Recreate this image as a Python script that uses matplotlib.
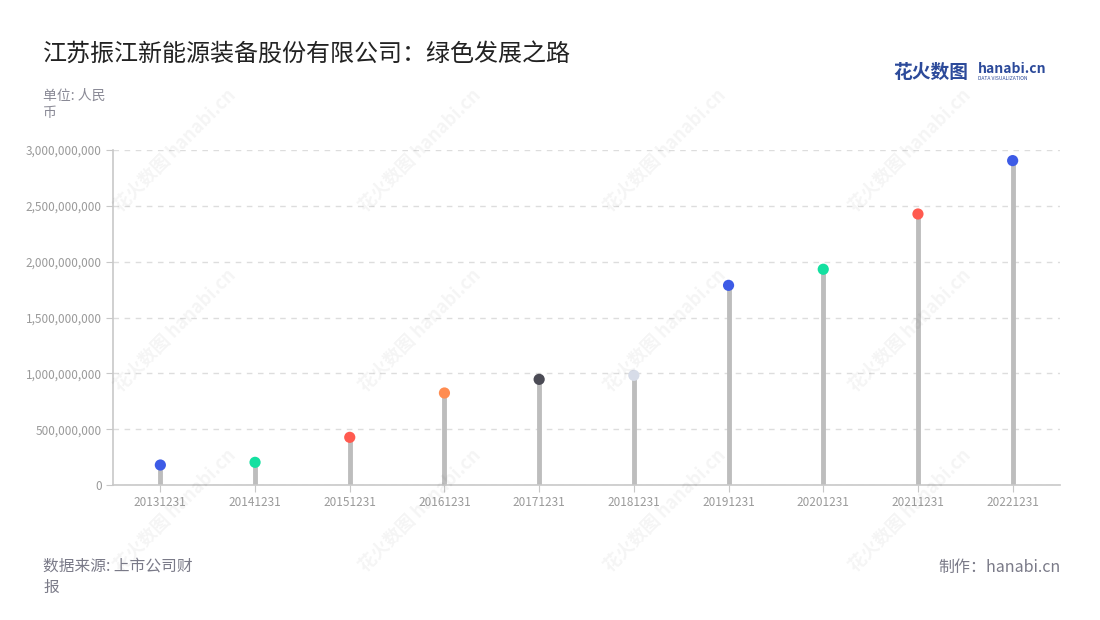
import matplotlib
matplotlib.use("Agg")
import matplotlib.pyplot as plt
from matplotlib.ticker import FuncFormatter, MultipleLocator

plt.rcParams['font.family'] = ['Noto Sans CJK SC', 'DejaVu Sans']

categories = ["20131231", "20141231", "20151231", "20161231", "20171231",
              "20181231", "20191231", "20201231", "20211231", "20221231"]
values = [179e6, 203e6, 427e6, 824e6, 946e6, 982e6, 1788e6, 1932e6, 2427e6, 2905e6]
dot_colors = ["#3d5be6", "#13e0a0", "#ff5a4f", "#ff8c50", "#4b4b55",
              "#d7dce8", "#3d5be6", "#13e0a0", "#ff5a4f", "#3d5be6"]

title = "江苏振江新能源装备股份有限公司：绿色发展之路"
unit = "单位: 人民\n币"
source = "数据来源: 上市公司财\n报"
credit = "制作：hanabi.cn"

W, H = 1100, 620
fig = plt.figure(figsize=(W/100, H/100), dpi=100)
ax = fig.add_axes([113/W, 1-485/H, (1060-113)/W, (485-150)/H])

x = list(range(len(categories)))
ax.vlines(x, 0, values, color="#bdbdbd", linewidth=3.5, zorder=2)
ax.scatter(x, values, s=65, c=dot_colors, zorder=3, linewidths=0)

ax.set_xlim(-0.5, len(categories) - 0.5)
ax.set_ylim(0, 3e9)
ax.yaxis.set_major_locator(MultipleLocator(5e8))
ax.yaxis.set_major_formatter(FuncFormatter(lambda v, p: f"{int(v):,}"))
ax.set_xticks(x)
ax.set_xticklabels(categories)
ax.grid(axis="y", linestyle=(0, (4, 4)), color="#dddddd", linewidth=1)
ax.set_axisbelow(True)
for s in ["top", "right"]:
    ax.spines[s].set_visible(False)
for s in ["left", "bottom"]:
    ax.spines[s].set_color("#c8c8c8")
    ax.spines[s].set_linewidth(1.2)
ax.tick_params(axis="y", length=5, color="#c8c8c8", labelsize=8.5, labelcolor="#9a9a9a", pad=3)
ax.tick_params(axis="x", length=5, color="#c8c8c8", labelsize=8.5, labelcolor="#9a9a9a", pad=3)

# watermarks
for wx, wy in [(175, 150), (175, 330), (175, 510), (420, 150), (420, 330), (420, 510),
               (665, 150), (665, 330), (665, 510), (910, 150), (910, 330), (910, 510)]:
    fig.text(wx/W, 1-wy/H, "花火数图 hanabi.cn", rotation=45, fontsize=13,
             color="#000000", alpha=0.045, ha="center", va="center", fontweight="bold")

fig.text(43/W, 1-55/H, title, fontsize=17.3, color="#222222", va="center", ha="left")
fig.text(43/W, 1-104/H, unit, fontsize=10, color="#8a8a96", va="center", ha="left", linespacing=1.3)
fig.text(43/W, 1-577/H, source, fontsize=11.3, color="#7a7a88", va="center", ha="left", linespacing=1.35)
fig.text(1061/W, 1-567/H, credit, fontsize=11.5, color="#7a7a88", va="center", ha="right")

# logo
fig.text(893/W, 1-72/H, "花火数图", fontsize=13.5, color="#2c4a9a", va="center", ha="left", fontweight="bold")
fig.text(978/W, 1-69/H, "hanabi.cn", fontsize=10, color="#2c4a9a", va="center", ha="left", fontweight="bold")
fig.text(978/W, 1-79/H, "DATA VISUALIZATION", fontsize=3.6, color="#2c4a9a", va="center", ha="left")

fig.savefig("out.png", dpi=100, facecolor="white")
